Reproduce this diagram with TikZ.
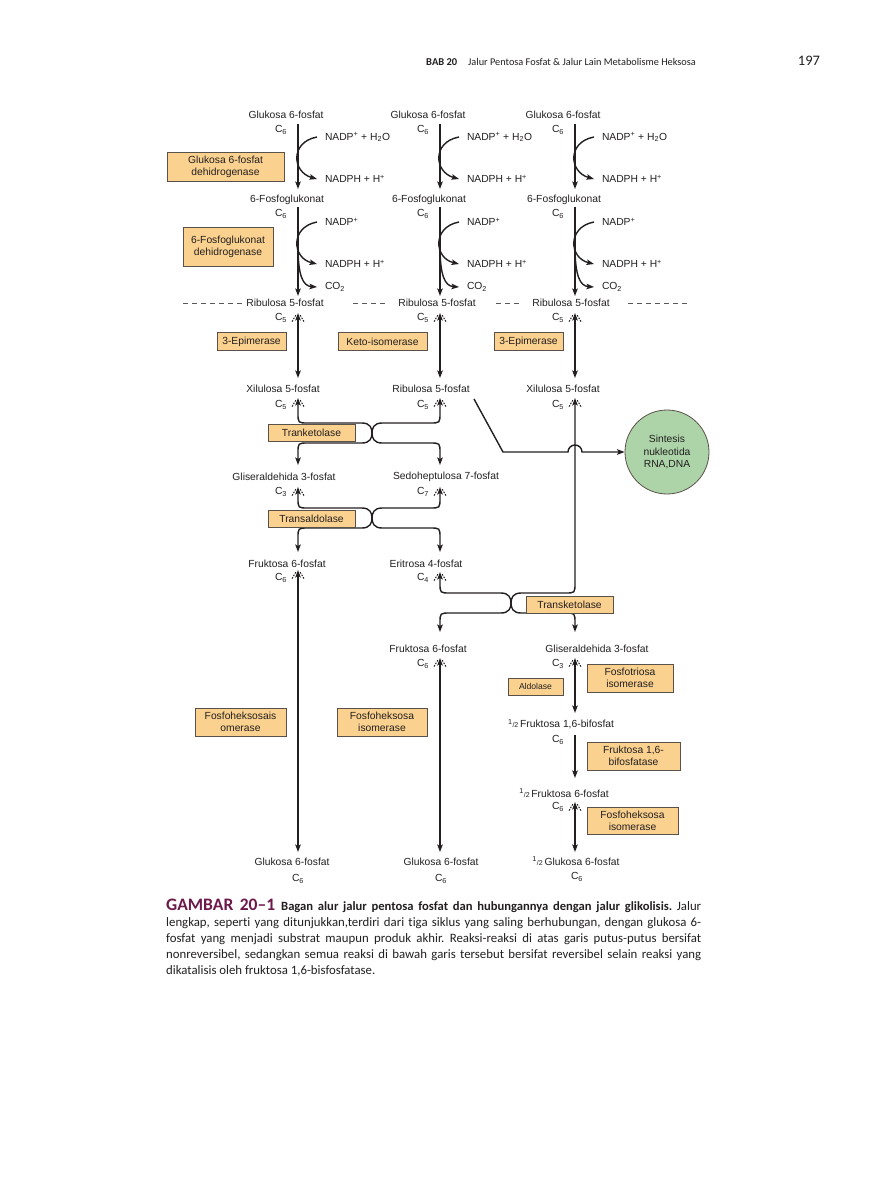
\documentclass[tikz,border=0pt]{standalone}
\usepackage{fontspec}
\setmainfont{Liberation Sans}
\newfontfamily\capfont[Ligatures={TeX,NoCommon}]{Carlito}
\usepackage{xcolor}
\usepackage{tikz}
\usetikzlibrary{arrows.meta}
\frenchspacing

\definecolor{ink}{RGB}{35,31,32}
\definecolor{enzfill}{RGB}{250,209,142}
\definecolor{enzline}{RGB}{90,82,74}
\definecolor{synfill}{RGB}{172,212,168}
\definecolor{figred}{RGB}{110,25,75}
\newcommand{\halfof}{\textsuperscript{1}{\fontsize{7}{8}\selectfont/2}\,}

\begin{document}
\begin{tikzpicture}[x=1pt,y=-1pt,
  lbl/.style={inner sep=0pt,outer sep=0pt,text=ink,font=\fontsize{10.3}{12.4}\selectfont},
  enz/.style={draw=enzline,fill=enzfill,line width=0.8pt,inner sep=0pt,outer sep=0pt,align=center,text=ink,font=\fontsize{10.3}{12.2}\selectfont},
  flow/.style={draw=ink,line width=1.4pt,-{Stealth[length=7.5pt,width=5.5pt,inset=1.5pt]}},
  both/.style={draw=ink,line width=1.4pt,{Stealth[length=7.5pt,width=5.5pt,inset=1.5pt]}-{Stealth[length=7.5pt,width=5.5pt,inset=1.5pt]}},
  chev/.style={draw=ink,line width=1pt,dash pattern=on 1.6pt off 1.3pt},
  cut/.style={draw=ink!75,line width=0.7pt,dash pattern=on 5pt off 4pt},
  capline/.style={anchor=base west,inner sep=0pt,text=ink,font=\capfont\fontsize{12.8}{16}\selectfont},
  revtip/.pic={\path[chev] (-2.2,2.2) -- (-6.5,9.5); \path[chev] (2.2,2.2) -- (6.5,9.5);}]
\path[use as bounding box] (0,0) rectangle (875,1200);
\path[fill=white,draw=none] (0,0) rectangle (875,1200);
\node[anchor=base west,inner sep=0pt,text=ink,font=\capfont\bfseries\fontsize{10.5}{12}\selectfont] (bab) at (426,65) {BAB 20};
\node[anchor=base west,inner sep=0pt,text=ink,font=\capfont\fontsize{10.3}{12}\selectfont] (judul) at (468,65) {Jalur Pentosa Fosfat \& Jalur Lain Metabolisme Heksosa};
\node[anchor=base,inner sep=0pt,text=ink,font=\capfont\fontsize{14.5}{16}\selectfont] (hal) at (809,65) {197};
\foreach \cx/\i in {298/1,440/2,575/3}{
  \node[lbl] (glc\i) at (\cx-12,115) {Glukosa 6-fosfat};
  \node[lbl] (cg\i) at (\cx-17,130) {C\textsubscript{6}};
  \node[lbl,anchor=west] (nin\i) at (\cx+27,137) {NADP\textsuperscript{+} + H\textsubscript{2}O};
  \node[lbl,anchor=west] (nout\i) at (\cx+27,179) {NADPH + H\textsuperscript{+}};
  \node[lbl] (pgl\i) at (\cx-11,200) {6-Fosfoglukonat};
  \node[lbl] (cp\i) at (\cx-17,214) {C\textsubscript{6}};
  \node[lbl,anchor=west] (pin\i) at (\cx+27,222) {NADP\textsuperscript{+}};
  \node[lbl,anchor=west] (pout\i) at (\cx+27,264) {NADPH + H\textsuperscript{+}};
  \node[lbl,anchor=west] (co\i) at (\cx+27,287) {CO\textsubscript{2}};
  \node[lbl] (cr\i) at (\cx-17,318) {C\textsubscript{5}};
  \node[lbl] (cx\i) at (\cx-17,405) {C\textsubscript{5}};
  \coordinate (ga\i) at (\cx,124);
  \coordinate (gb\i) at (\cx,189);
  \coordinate (pa\i) at (\cx,207);
  \coordinate (pb\i) at (\cx,296);
  \coordinate (ra\i) at (\cx,313);
  \coordinate (rb\i) at (\cx,378);
  \draw[flow] (ga\i) -- (gb\i);
  \draw[flow] (\cx+19,137) .. controls (\cx-8,142) and (\cx-6,172) .. (\cx+19,179);
  \draw[flow] (pa\i) -- (pb\i);
  \draw[flow] (\cx+19,222) .. controls (\cx-8,227) and (\cx-6,258) .. (\cx+19,264);
  \draw[flow] (\cx,246) .. controls (\cx,276) and (\cx+5,286) .. (\cx+19,287);
  \draw[both] (ra\i) -- (rb\i);
  \pic at (ra\i) {revtip};
}
\node[enz,minimum width=117pt,minimum height=29pt] (g6pd) at (225.5,166.5) {Glukosa 6-fosfat\\dehidrogenase};
\node[enz,minimum width=90pt,minimum height=39pt] (pgd) at (228,246.5) {6-Fosfoglukonat\\dehidrogenase};
\node[lbl] (rib1) at (285,303) {Ribulosa 5-fosfat};
\node[lbl] (rib2) at (437,303) {Ribulosa 5-fosfat};
\node[lbl] (rib3) at (571,303) {Ribulosa 5-fosfat};
\draw[cut] (183,303) -- (244,303);
\draw[cut] (353,303) -- (385,303);
\draw[cut] (496,303) -- (521,303);
\draw[cut] (628,303) -- (688,303);
\node[enz,minimum width=69pt,minimum height=18pt] (epi1) at (251.5,341.5) {3-Epimerase};
\node[enz,minimum width=89pt,minimum height=18pt] (keto) at (382.5,341.5) {Keto-isomerase};
\node[enz,minimum width=69pt,minimum height=18pt] (epi3) at (528.5,341.5) {3-Epimerase};
\node[lbl] (xil1) at (283,389) {Xilulosa 5-fosfat};
\node[lbl] (ribx) at (431,389) {Ribulosa 5-fosfat};
\node[lbl] (xil3) at (563,389) {Xilulosa 5-fosfat};
\coordinate (xa1) at (298,398);
\coordinate (xa2) at (440,398);
\coordinate (xa3) at (575,398);
\draw[both] (xa1) -- (298,413) .. controls (298,423) .. (308,423) -- (362,423) .. controls (370,423) and (372,428) .. (372,433) .. controls (372,438) and (370,443) .. (362,443) -- (308,443) .. controls (298,443) .. (298,453) -- (298,465);
\draw[both] (xa2) -- (440,413) .. controls (440,423) .. (430,423) -- (382,423) .. controls (374,423) and (372,428) .. (372,433) .. controls (372,438) and (374,443) .. (382,443) -- (430,443) .. controls (440,443) .. (440,453) -- (440,465);
\pic at (xa1) {revtip};
\pic at (xa2) {revtip};
\node[enz,minimum width=87pt,minimum height=17pt] (tk1) at (311.5,432.5) {Tranketolase};
\node[circle,draw=enzline,fill=synfill,line width=0.8pt,minimum size=84pt,inner sep=0pt,align=center,text=ink,font=\fontsize{10.3}{12.6}\selectfont] (syn) at (667,452) {Sintesis\\nukleotida\\RNA,DNA};
\coordinate (dg) at (474,399);
\coordinate (dk) at (503,452);
\draw[flow] (dg) -- (dk) -- (568,452) arc[start angle=180,end angle=360,radius=7] -- (syn.west);
\node[lbl] (gap1) at (284,477) {Gliseraldehida 3-fosfat};
\node[lbl] (sdh) at (446,477) {Sedoheptulosa 7-fosfat};
\node[lbl] (c3a) at (281,492) {C\textsubscript{3}};
\node[lbl] (c7) at (423,492) {C\textsubscript{7}};
\coordinate (sa1) at (298,487);
\coordinate (sa2) at (440,487);
\draw[both] (sa1) -- (298,498) .. controls (298,508) .. (308,508) -- (362,508) .. controls (370,508) and (372,513) .. (372,518) .. controls (372,523) and (370,528) .. (362,528) -- (308,528) .. controls (298,528) .. (298,538) -- (298,552);
\draw[both] (sa2) -- (440,498) .. controls (440,508) .. (430,508) -- (382,508) .. controls (374,508) and (372,513) .. (372,518) .. controls (372,523) and (374,528) .. (382,528) -- (430,528) .. controls (440,528) .. (440,538) -- (440,552);
\pic at (sa1) {revtip};
\pic at (sa2) {revtip};
\node[enz,minimum width=87pt,minimum height=17pt] (tald) at (311.5,518.5) {Transaldolase};
\node[lbl] (f6p1) at (287,564) {Fruktosa 6-fosfat};
\node[lbl] (e4p) at (426,564) {Eritrosa 4-fosfat};
\node[lbl] (c6a) at (281,578) {C\textsubscript{6}};
\node[lbl] (c4) at (423,578) {C\textsubscript{4}};
\coordinate (fa1) at (298,570);
\coordinate (fb1) at (298,852);
\draw[both] (fa1) -- (fb1);
\pic at (fa1) {revtip};
\coordinate (ea) at (440,572);
\draw[both] (ea) -- (440,583) .. controls (440,593) .. (450,593) -- (501,593) .. controls (509,593) and (511,598) .. (511,603) .. controls (511,608) and (509,613) .. (501,613) -- (450,613) .. controls (440,613) .. (440,623) -- (440,632);
\draw[both] (xa3) -- (575,583) .. controls (575,593) .. (565,593) -- (521,593) .. controls (513,593) and (511,598) .. (511,603) .. controls (511,608) and (513,613) .. (521,613) -- (565,613) .. controls (575,613) .. (575,623) -- (575,632);
\pic at (ea) {revtip};
\pic at (xa3) {revtip};
\node[enz,minimum width=87pt,minimum height=17pt] (tk2) at (569.5,605) {Transketolase};
\node[lbl] (f6p2) at (428,649) {Fruktosa 6-fosfat};
\node[lbl] (gap3) at (597,649) {Gliseraldehida 3-fosfat};
\node[lbl] (c6b) at (423,664) {C\textsubscript{6}};
\node[lbl] (c3b) at (558,664) {C\textsubscript{3}};
\coordinate (fa2) at (440,658);
\coordinate (fb2) at (440,852);
\draw[both] (fa2) -- (fb2);
\pic at (fa2) {revtip};
\coordinate (ta) at (575,658);
\coordinate (tb) at (575,713);
\draw[both] (ta) -- (tb);
\pic at (ta) {revtip};
\node[enz,minimum width=55pt,minimum height=17pt,font=\fontsize{8.6}{10}\selectfont] (ald) at (535.5,686.5) {Aldolase};
\node[enz,minimum width=86pt,minimum height=28pt] (tpi) at (630,678) {Fosfotriosa\\isomerase};
\node[enz,minimum width=91pt,minimum height=28pt] (pgi1) at (240.5,722) {Fosfoheksosais\\omerase};
\node[enz,minimum width=90pt,minimum height=28pt] (pgi2) at (382,722) {Fosfoheksosa\\isomerase};
\node[lbl] (fbp) at (561,724) {\halfof Fruktosa 1,6-bifosfat};
\node[lbl] (c6c) at (558,740) {C\textsubscript{6}};
\coordinate (ba) at (575,735);
\coordinate (bb) at (575,778);
\draw[flow] (ba) -- (bb);
\node[enz,minimum width=93pt,minimum height=28pt] (fbpase) at (633.5,756) {Fruktosa 1,6-\\bifosfatase};
\node[lbl] (f6p3) at (564,793) {\halfof Fruktosa 6-fosfat};
\node[lbl] (c6d) at (558,807) {C\textsubscript{6}};
\coordinate (ha) at (575,802);
\coordinate (hb) at (575,852);
\draw[both] (ha) -- (hb);
\pic at (ha) {revtip};
\node[enz,minimum width=91pt,minimum height=27pt] (pgi3) at (632.5,820.5) {Fosfoheksosa\\isomerase};
\node[lbl] (glo1) at (292,862) {Glukosa 6-fosfat};
\node[lbl] (glo2) at (441,862) {Glukosa 6-fosfat};
\node[lbl] (glo3) at (576,861) {\halfof Glukosa 6-fosfat};
\node[lbl] (co6a) at (298,879) {C\textsubscript{6}};
\node[lbl] (co6b) at (441,879) {C\textsubscript{6}};
\node[lbl] (co6c) at (577,877) {C\textsubscript{6}};
\node[capline] (cap1) at (166,910) {\makebox[535pt][s]{{\bfseries\fontsize{17.5}{18}\selectfont\color{figred}GAMBAR 20--1}\hspace{6pt}{\bfseries\fontsize{12.6}{16}\selectfont Bagan alur jalur pentosa fosfat dan hubungannya dengan jalur glikolisis.} Jalur}};
\node[capline] (cap2) at (166,926) {\makebox[535pt][s]{lengkap, seperti yang ditunjukkan,terdiri dari tiga siklus yang saling berhubungan, dengan glukosa 6-}};
\node[capline] (cap3) at (166,942) {\makebox[535pt][s]{fosfat yang menjadi substrat maupun produk akhir. Reaksi-reaksi di atas garis putus-putus bersifat}};
\node[capline] (cap4) at (166,958) {\makebox[535pt][s]{nonreversibel, sedangkan semua reaksi di bawah garis tersebut bersifat reversibel selain reaksi yang}};
\node[capline] (cap5) at (166,974) {dikatalisis oleh fruktosa 1,6-bisfosfatase.};
\end{tikzpicture}
\end{document}
